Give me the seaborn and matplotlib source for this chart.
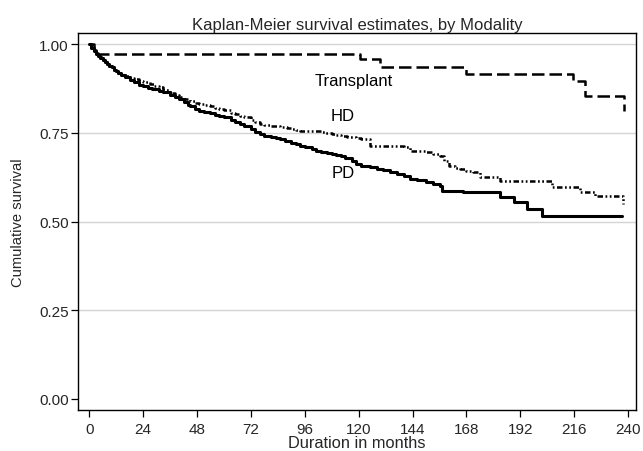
import matplotlib
matplotlib.use("Agg")
import matplotlib.pyplot as plt
import seaborn as sns
import pandas as pd

# ---- data ----
tx_time = [0, 2, 120.5, 129.5, 168, 215.5, 220.8, 238.2]
tx_surv = [1.0, 0.972, 0.958, 0.936, 0.915, 0.897, 0.854, 0.812]

hd_time = [0, 1, 2, 3, 4, 5, 6, 7, 8, 9, 10, 11, 12, 13, 14, 16, 18, 20, 22, 24,
           27, 29, 31, 33, 36, 38, 40, 42, 45, 47, 49, 51, 54, 56, 58, 60, 63, 65,
           67, 69, 72, 74, 76, 78, 81, 83, 85, 88, 90, 92, 94, 98, 103, 105, 108,
           110, 112, 115, 117, 119, 121, 125, 133, 140, 143, 147, 150, 153, 156,
           158, 160, 163, 165, 168, 171, 174, 183, 206, 218.6, 225.3, 237.9]
hd_surv = [1.0, 0.99, 0.982, 0.975, 0.968, 0.962, 0.956, 0.950, 0.945, 0.939,
           0.933, 0.928, 0.923, 0.919, 0.915, 0.910, 0.905, 0.901, 0.897, 0.893,
           0.887, 0.882, 0.878, 0.871, 0.862, 0.856, 0.850, 0.846, 0.840, 0.835,
           0.831, 0.828, 0.824, 0.821, 0.817, 0.813, 0.807, 0.803, 0.798, 0.793,
           0.787, 0.781, 0.775, 0.773, 0.770, 0.768, 0.765, 0.762, 0.760, 0.758,
           0.756, 0.754, 0.751, 0.749, 0.746, 0.744, 0.742, 0.739, 0.737, 0.735,
           0.732, 0.714, 0.712, 0.710, 0.700, 0.698, 0.695, 0.690, 0.685, 0.670,
           0.657, 0.652, 0.648, 0.643, 0.639, 0.625, 0.615, 0.596, 0.584, 0.573,
           0.549]

pd_time = [0, 1, 2, 3, 4, 5, 6, 7, 8, 9, 10, 11, 12, 13, 14, 16, 18, 20, 22, 24,
           26, 28, 31, 33, 36, 38, 40, 42, 44, 45, 47, 49, 51, 54, 56, 58, 60, 63,
           65, 67, 69, 72, 74, 76, 78, 81, 83, 85, 87, 90, 92, 94, 96, 99, 101, 103,
           106, 108, 110, 112, 114, 117, 119, 121, 123, 125, 128, 131, 134, 137,
           140, 143, 146, 150, 153, 156, 157, 166.5, 183, 189, 195, 201.6, 237.2]
pd_surv = [1.0, 0.99, 0.98, 0.972, 0.966, 0.960, 0.955, 0.950, 0.945, 0.939,
           0.934, 0.928, 0.923, 0.918, 0.913, 0.906, 0.900, 0.892, 0.885, 0.881,
           0.877, 0.873, 0.868, 0.864, 0.857, 0.851, 0.845, 0.836, 0.829, 0.825,
           0.818, 0.812, 0.809, 0.805, 0.801, 0.798, 0.793, 0.786, 0.781, 0.775,
           0.769, 0.760, 0.753, 0.746, 0.742, 0.738, 0.735, 0.732, 0.727, 0.722,
           0.718, 0.714, 0.710, 0.703, 0.699, 0.695, 0.692, 0.690, 0.688, 0.685,
           0.679, 0.670, 0.663, 0.657, 0.655, 0.653, 0.649, 0.645, 0.640, 0.633,
           0.627, 0.620, 0.616, 0.610, 0.605, 0.601, 0.587, 0.582, 0.568, 0.554,
           0.535, 0.516, 0.516]

group_labels = ["Transplant", "HD", "PD"]
label_pos_x = [118, 113, 113]
label_pos_y = [0.898, 0.798, 0.638]

x_ticks = list(range(0, 241, 24))
y_ticks = [0.0, 0.25, 0.5, 0.75, 1.0]

# ---- plotting ----
sns.set_style("white")
plt.rcParams["font.family"] = ["Liberation Sans", "DejaVu Sans"]

fig = plt.figure(figsize=(6.43, 4.52), dpi=100)
ax = fig.add_axes([78 / 643, 1 - 411 / 452, (636 - 78) / 643, (411 - 34) / 452])

df_tx = pd.DataFrame({"t": tx_time, "s": tx_surv})
df_hd = pd.DataFrame({"t": hd_time, "s": hd_surv})
df_pd = pd.DataFrame({"t": pd_time, "s": pd_surv})

sns.lineplot(data=df_tx, x="t", y="s", ax=ax, color="black", lw=1.8,
             drawstyle="steps-post", linestyle=(0, (5.0, 2.0)),
             estimator=None, sort=False)
sns.lineplot(data=df_hd, x="t", y="s", ax=ax, color="black", lw=1.8,
             drawstyle="steps-post", linestyle=(0, (2.2, 1.0, 0.7, 1.0, 0.7, 1.0)),
             estimator=None, sort=False)
sns.lineplot(data=df_pd, x="t", y="s", ax=ax, color="black", lw=2.2,
             drawstyle="steps-post", linestyle="-",
             estimator=None, sort=False)

for lab, lx, ly in zip(group_labels, label_pos_x, label_pos_y):
    ax.text(lx, ly, lab, fontsize=12, ha="center", va="center", color="black")

ax.set_xlim(-5, 243.5)
ax.set_ylim(-0.031, 1.031)
ax.set_xticks(x_ticks)
ax.set_yticks(y_ticks)
ax.set_yticklabels([f"{v:.2f}" for v in y_ticks])
for v in y_ticks[1:]:
    ax.axhline(v, color="#d4d4d4", lw=1.0, zorder=0)

ax.tick_params(axis="both", direction="out", length=5, width=0.9, color="black",
               labelsize=11, bottom=True, left=True)
ax.tick_params(axis="x", pad=4)
ax.tick_params(axis="y", pad=1.5)
for sp in ax.spines.values():
    sp.set_color("black")
    sp.set_linewidth(1.0)

ax.set_xlabel("Duration in months", fontsize=11.8, labelpad=-1)
ax.set_ylabel("Cumulative survival", fontsize=10.6, labelpad=10)
ax.set_title("Kaplan-Meier survival estimates, by Modality", fontsize=12, pad=3)

fig.savefig("out.png", dpi=100)
